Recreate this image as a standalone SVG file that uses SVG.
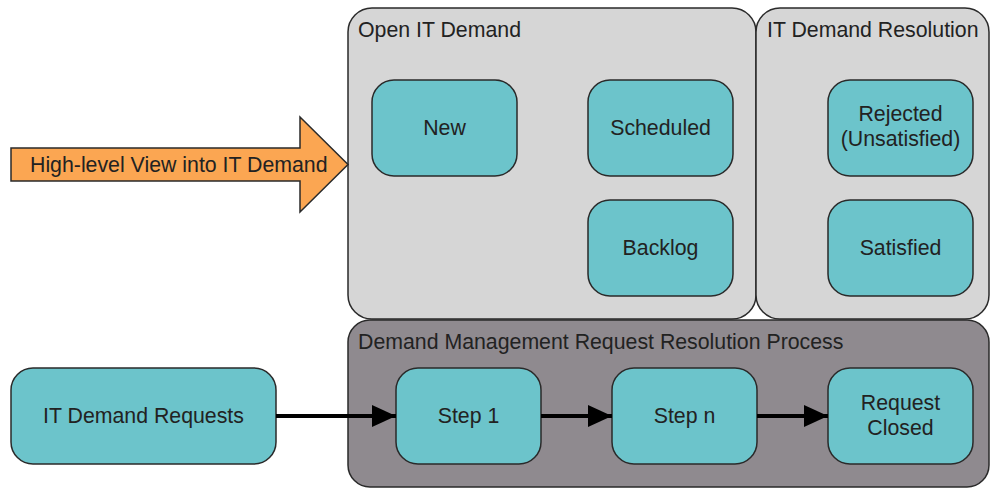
<svg xmlns="http://www.w3.org/2000/svg" width="991" height="489" viewBox="0 0 991 489">
<defs>
<style>
.cont{fill:#d6d6d6;stroke:#2a2a2a;stroke-width:1.5}
.dark{fill:#8f8a8f;stroke:#2a2a2a;stroke-width:1.5}
.node{fill:#6cc4cb;stroke:#2a2a2a;stroke-width:1.5}
.t{font-family:"Liberation Sans",Arial,sans-serif;font-size:21.3px;fill:#222}
.c{text-anchor:middle}
.conn{stroke:#000;stroke-width:4;fill:none;marker-end:url(#ah)}
</style>
<marker id="ah" markerWidth="6" markerHeight="5.5" refX="6" refY="2.75" orient="auto" markerUnits="strokeWidth">
<path d="M0,0 L6,2.75 L0,5.5 Z" fill="#000"/>
</marker>
</defs>
<rect width="991" height="489" fill="#fff"/>
<g id="open-it-demand">
<rect class="cont" x="348" y="8" width="408" height="311" rx="24"/>
<text class="t" x="358" y="37">Open IT Demand</text>
</g>
<g id="it-demand-resolution">
<rect class="cont" x="756" y="8" width="233" height="311" rx="24"/>
<text class="t" x="767" y="37">IT Demand Resolution</text>
</g>
<g id="dm-process">
<rect class="dark" x="348" y="320" width="641" height="167" rx="22"/>
<text class="t" x="358" y="349">Demand Management Request Resolution Process</text>
</g>
<g id="high-level-arrow">
<path d="M11,148 L300,148 L300,117 L348,164.5 L300,212 L300,181 L11,181 Z" fill="#fba652" stroke="#2a2a2a" stroke-width="1.5"/>
<text class="t" x="30" y="172">High-level View into IT Demand</text>
</g>
<g id="new">
<rect class="node" x="372" y="80" width="145" height="96" rx="22"/>
<text class="t c" x="444.5" y="135">New</text>
</g>
<g id="scheduled">
<rect class="node" x="588" y="80" width="145" height="96" rx="22"/>
<text class="t c" x="660.5" y="135">Scheduled</text>
</g>
<g id="backlog">
<rect class="node" x="588" y="200" width="145" height="96" rx="22"/>
<text class="t c" x="660.5" y="255">Backlog</text>
</g>
<g id="rejected">
<rect class="node" x="828" y="80" width="145" height="96" rx="22"/>
<text class="t c" x="900.5" y="121">Rejected</text>
<text class="t c" x="900.5" y="146">(Unsatisfied)</text>
</g>
<g id="satisfied">
<rect class="node" x="828" y="200" width="145" height="96" rx="22"/>
<text class="t c" x="900.5" y="255">Satisfied</text>
</g>
<g id="it-demand-requests">
<rect class="node" x="11" y="368" width="265" height="96" rx="22"/>
<text class="t c" x="143.5" y="423">IT Demand Requests</text>
</g>
<g id="step1">
<rect class="node" x="396" y="368" width="145" height="96" rx="22"/>
<text class="t c" x="468.5" y="423">Step 1</text>
</g>
<g id="stepn">
<rect class="node" x="612" y="368" width="145" height="96" rx="22"/>
<text class="t c" x="684.5" y="423">Step n</text>
</g>
<g id="request-closed">
<rect class="node" x="828" y="368" width="145" height="96" rx="22"/>
<text class="t c" x="900.5" y="410">Request</text>
<text class="t c" x="900.5" y="435">Closed</text>
</g>
<g id="connectors">
<line class="conn" x1="276" y1="416" x2="396" y2="416"/>
<line class="conn" x1="541" y1="416" x2="612" y2="416"/>
<line class="conn" x1="757" y1="416" x2="828" y2="416"/>
</g>
</svg>
